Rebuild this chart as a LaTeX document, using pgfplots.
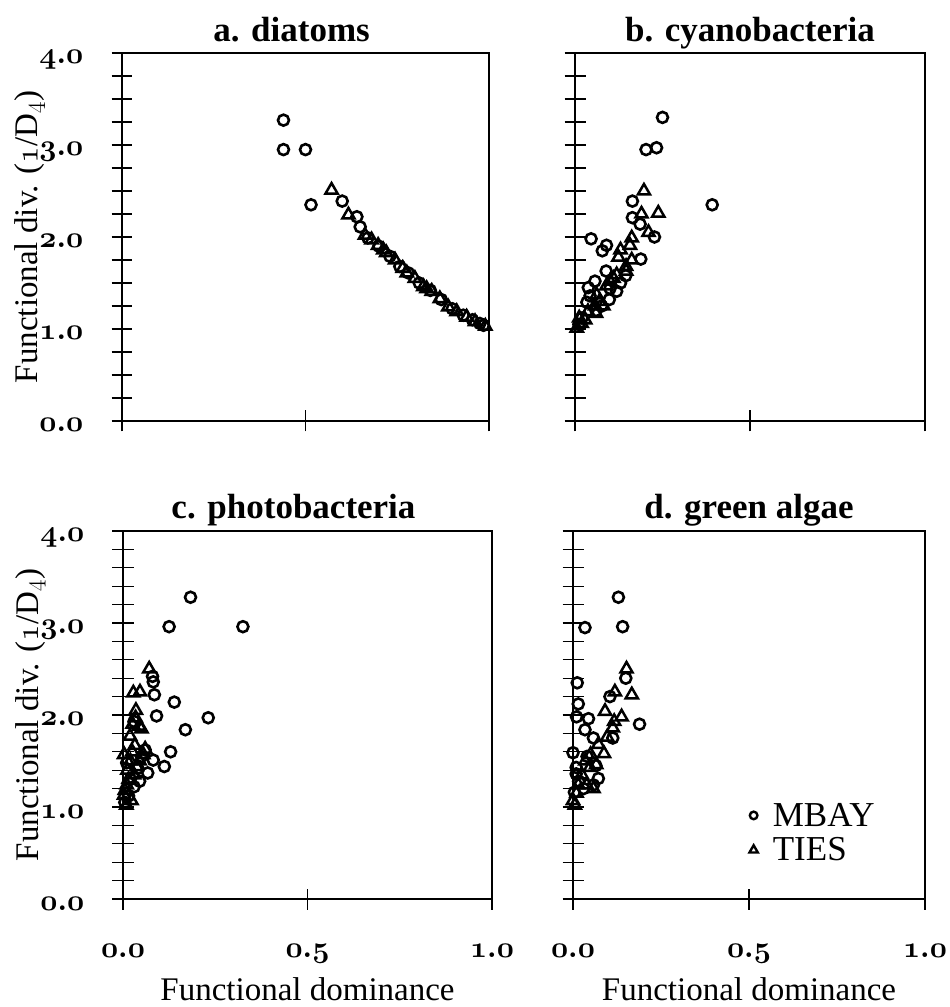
\documentclass[border=0pt]{standalone}
\usepackage{pgfplots}
\pgfplotsset{compat=1.18}
\usepackage{fontspec}
\setmainfont{Liberation Serif}
\DeclareFontShape{OML}{cmm}{m}{it}{<->cmmi10}{}
\DeclareFontShape{OML}{cmm}{b}{it}{<->cmmib10}{}
\newcommand{\tn}[1]{\scalebox{1.2}{$\mathnormal{#1}$}}

\pgfplotsset{
  panel/.style={
    scale only axis, xmin=0, xmax=1, ymin=0, ymax=4,
    axis line style={line width=1.3pt},
    xtick={0,0.5,1}, ytick={0,1,2,3,4},
    tick align=center, xtick pos=bottom, ytick pos=left,
    major tick length=21pt, minor tick length=21pt,
    tick style={line width=1.3pt, black},
    clip=false,
    tick label style={font=\fontsize{24.88}{28}\selectfont\boldmath, inner sep=0pt},
    yticklabel style={anchor=base east, xshift=-28pt, yshift=-11pt},
    xticklabel style={anchor=base, yshift=-48pt},
    every axis title/.style={at={(axis description cs:0.5,1.03)}, anchor=base,
      font=\fontsize{35}{38}\selectfont\bfseries},
    every axis y label/.style={at={(axis description cs:-0.2507,0.5)}, rotate=90, anchor=center,
      font=\fontsize{33}{38}\selectfont},
    every axis x label/.style={at={(axis description cs:0.5,-0.246)}, anchor=center,
      font=\fontsize{33}{38}\selectfont},
  },
  toprow/.style={minor ytick={0.25,0.5,0.75,1.25,1.5,1.75,2.25,2.5,2.75,3.25,3.5,3.75}, xticklabels={,,}},
  botrow/.style={minor ytick={0.2,0.4,0.6,0.8,1.2,1.4,1.6,1.8,2.2,2.4,2.6,2.8,3.2,3.4,3.6,3.8},
     xticklabels={\tn{0.0},\tn{0.5},\tn{1.0}},
     xlabel={Functional dominance}},
  leftcol/.style={yticklabels={\tn{0.0},\tn{1.0},\tn{2.0},\tn{3.0},\tn{4.0}},
     ylabel={Functional div. ($\mathnormal{1}$/D$_{4}$)}},
  rightcol/.style={yticklabels={,,,,}},
  mbay/.style={only marks, mark=o, mark size=5.5pt, line width=2.6pt, black, forget plot},
  ties/.style={only marks, mark=triangle, mark size=7pt, line width=2.5pt, black, forget plot},
}

\begin{document}
\begin{tikzpicture}[x=1pt,y=1pt]
\useasboundingbox (0,0) rectangle (950,1007);

% a. diatoms
\begin{axis}[panel, toprow, leftcol, at={(122pt,586pt)}, anchor=south west,
  width=367pt, height=368pt, title={a. diatoms},
  title style={at={(axis description cs:0.462,1.03)}}]
\addplot[mbay] coordinates {
(0.44,3.27)(0.44,2.95)(0.50,2.95)(0.515,2.35)(0.60,2.39)(0.64,2.22)(0.649,2.11)
(0.67,1.99)(0.70,1.90)(0.73,1.79)(0.757,1.68)(0.78,1.61)(0.81,1.50)(0.84,1.42)
(0.87,1.32)(0.90,1.22)(0.93,1.15)(0.955,1.10)(0.975,1.06)(0.985,1.04)};
\addplot[ties] coordinates {
(0.571,2.51)(0.617,2.24)(0.662,2.02)(0.68,1.97)(0.698,1.91)(0.712,1.86)(0.72,1.83)
(0.744,1.75)(0.765,1.66)(0.776,1.61)(0.798,1.55)(0.821,1.46)(0.83,1.44)(0.844,1.41)
(0.866,1.33)(0.889,1.24)(0.912,1.19)(0.939,1.13)(0.962,1.08)(0.99,1.03)};
\end{axis}

% b. cyanobacteria
\begin{axis}[panel, toprow, rightcol, at={(575pt,586pt)}, anchor=south west,
  width=350pt, height=368pt, title={b. cyanobacteria}]
\addplot[mbay] coordinates {
(0.25,3.30)(0.203,2.95)(0.233,2.97)(0.392,2.35)(0.164,2.39)(0.164,2.21)(0.186,2.14)
(0.227,2.00)(0.046,1.98)(0.090,1.91)(0.078,1.85)(0.188,1.76)(0.089,1.63)(0.057,1.52)
(0.038,1.45)(0.119,1.41)(0.098,1.32)(0.076,1.25)(0.043,1.36)(0.034,1.29)(0.011,1.05)
(0.02,1.12)(0.06,1.20)(0.10,1.44)(0.13,1.50)(0.145,1.58)};
\addplot[ties] coordinates {
(0.197,2.50)(0.238,2.26)(0.19,2.25)(0.21,2.05)(0.162,1.99)(0.157,1.91)(0.13,1.86)
(0.124,1.78)(0.162,1.75)(0.146,1.68)(0.119,1.59)(0.146,1.63)(0.09,1.47)(0.081,1.25)
(0.057,1.25)(0.062,1.37)(0.029,1.10)(0.019,1.06)(0.012,1.12)(0.005,1.01)(0.037,1.19)
(0.06,1.17)(0.10,1.52)(0.11,1.55)(0.07,1.30)};
\end{axis}

% c. photobacteria
\begin{axis}[panel, botrow, leftcol, at={(123pt,108pt)}, anchor=south west,
  width=369pt, height=368pt, title={c. photobacteria},
  title style={at={(axis description cs:0.462,1.035)}}]
\addplot[mbay] coordinates {
(0.183,3.28)(0.125,2.96)(0.325,2.96)(0.08,2.42)(0.082,2.36)(0.085,2.22)(0.139,2.14)
(0.091,1.99)(0.231,1.97)(0.169,1.84)(0.129,1.60)(0.082,1.51)(0.112,1.44)(0.067,1.37)
(0.03,1.93)(0.01,1.48)(0.02,1.30)(0.04,1.42)(0.05,1.55)(0.06,1.62)(0.015,1.12)
(0.005,1.05)(0.03,1.22)(0.045,1.28)};
\addplot[ties] coordinates {
(0.071,2.50)(0.028,2.24)(0.046,2.25)(0.035,2.05)(0.034,1.97)(0.044,1.88)(0.026,1.90)
(0.05,1.85)(0.019,1.77)(0.032,1.67)(0.003,1.57)(0.055,1.57)(0.06,1.63)(0.037,1.44)
(0.02,1.50)(0.01,1.24)(0.023,1.07)(0.003,1.13)(0.009,1.02)(0.015,1.30)(0.03,1.35)
(0.045,1.50)(0.025,1.60)(0.012,1.40)(0.005,1.18)};
\end{axis}

% d. green algae
\begin{axis}[panel, botrow, rightcol, at={(573pt,108pt)}, anchor=south west,
  width=352pt, height=368pt, title={d. green algae},
  title style={at={(axis description cs:0.5,1.035)}},
  legend style={at={(axis cs:0.495,0.72)}, anchor=west, draw=none, fill=none,
    font=\fontsize{35}{38}\selectfont, row sep=8pt, inner sep=0pt,
    nodes={inner sep=1pt}},
  legend cell align=left,
  legend image code/.code={\path (-5pt,0pt) (17pt,0pt); \draw[#1] plot coordinates {(0pt,0pt)};}]
\addplot[mbay] coordinates {
(0.129,3.28)(0.141,2.96)(0.034,2.95)(0.012,2.35)(0.15,2.40)(0.015,2.12)(0.105,2.20)
(0.01,1.98)(0.044,1.96)(0.189,1.90)(0.034,1.84)(0.058,1.75)(0.113,1.75)(0.0,1.59)
(0.072,1.31)(0.009,1.43)(0.009,1.36)(0.04,1.55)(0.016,1.28)(0.058,1.24)(0.004,1.16)
(0.03,1.20)(0.065,1.45)};
\addplot[ties] coordinates {
(0.152,2.50)(0.119,2.25)(0.167,2.22)(0.091,2.04)(0.138,1.98)(0.117,1.93)(0.113,1.86)
(0.097,1.76)(0.072,1.68)(0.088,1.58)(0.05,1.57)(0.048,1.43)(0.039,1.24)(0.015,1.24)
(0.058,1.20)(0.0,1.07)(0.005,1.02)(0.035,1.50)(0.066,1.46)(0.025,1.35)(0.01,1.15)};
\addlegendimage{only marks, mark=o, mark size=3.8pt, line width=2.4pt, black}
\addlegendentry{MBAY}
\addlegendimage{only marks, mark=triangle, mark size=4.8pt, line width=2.4pt, black}
\addlegendentry{TIES}
\end{axis}
\end{tikzpicture}
\end{document}
